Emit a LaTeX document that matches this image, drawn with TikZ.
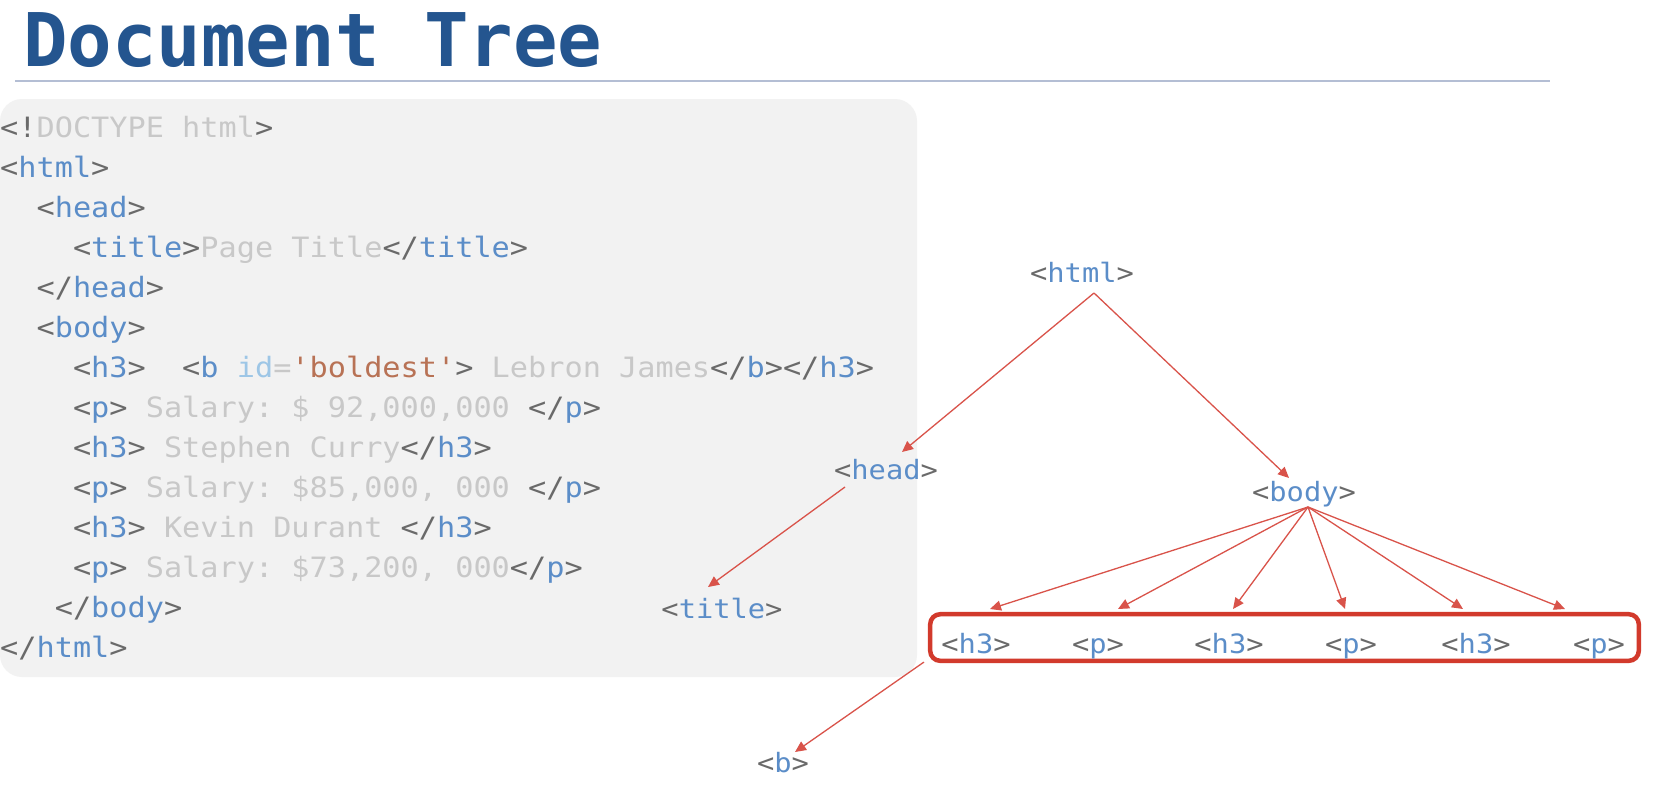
\documentclass[tikz,border=0pt]{standalone}
\usepackage{fontspec}
\usetikzlibrary{arrows.meta}
\newfontfamily\codefont{DejaVu Sans Mono}[FakeStretch=1.08,Ligatures=TeXOff]
\newfontfamily\titlefont{DejaVu Sans Mono}
\definecolor{tagc}{HTML}{5B8DC8}
\definecolor{brk}{HTML}{6A6A6A}
\definecolor{txt}{HTML}{C8C8C8}
\definecolor{attr}{HTML}{9DC6E6}
\definecolor{strc}{HTML}{B87255}
\definecolor{titlec}{HTML}{24558F}
\definecolor{rulec}{HTML}{B4BED4}
\definecolor{panelc}{HTML}{F2F2F2}
\definecolor{arrc}{HTML}{D9534A}
\definecolor{boxc}{HTML}{D23A2C}
\newcommand\otag[1]{\textcolor{brk}{<}\textcolor{tagc}{#1}\textcolor{brk}{>}}
\newcommand\ctag[1]{\textcolor{brk}{</}\textcolor{tagc}{#1}\textcolor{brk}{>}}
\newcommand\ttxt[1]{\textcolor{txt}{#1}}
\tikzset{
  codeline/.style={anchor=base west, inner sep=0pt, font=\codefont\fontsize{28}{34}\selectfont},
  tnode/.style={anchor=base, inner sep=0pt, font=\codefont\fontsize{26.6}{32}\selectfont},
  arr/.style={draw=arrc, line width=1.3pt, -{Triangle[length=11pt,width=10pt]}},
}
\begin{document}
\begin{tikzpicture}[x=1pt,y=-1pt]
\useasboundingbox (0,0) rectangle (1662,788);
\fill[white] (0,0) rectangle (1662,788);
% title
\node[anchor=base west, inner sep=0pt, text=titlec, font=\titlefont\bfseries\fontsize{74}{80}\selectfont] (ttl) at (23,66) {Document Tree};
\draw[rulec, line width=2pt] (15,81) -- (1550,81);
% code panel
\fill[panelc, rounded corners=22pt] (0,99) rectangle (917,677);
\def\p{18.2}
\node[codeline] (l0) at (0,137) {\textcolor{brk}{<!}\ttxt{DOCTYPE\ html}\textcolor{brk}{>}};
\node[codeline] (l1) at (0,177) {\otag{html}};
\node[codeline] (l2) at (2*\p,217) {\otag{head}};
\node[codeline] (l3) at (4*\p,257) {\otag{title}\ttxt{Page\ Title}\ctag{title}};
\node[codeline] (l4) at (2*\p,297) {\ctag{head}};
\node[codeline] (l5) at (2*\p,337) {\otag{body}};
\node[codeline] (l6) at (4*\p,377) {\otag{h3}\ \ \textcolor{brk}{<}\textcolor{tagc}{b}\ \textcolor{attr}{id}\ttxt{=}\textcolor{strc}{'boldest'}\textcolor{brk}{>}\ttxt{\ Lebron\ James}\ctag{b}\ctag{h3}};
\node[codeline] (l7) at (4*\p,417) {\otag{p}\ttxt{\ Salary:\ \$\ 92,000,000\ }\ctag{p}};
\node[codeline] (l8) at (4*\p,457) {\otag{h3}\ttxt{\ Stephen\ Curry}\ctag{h3}};
\node[codeline] (l9) at (4*\p,497) {\otag{p}\ttxt{\ Salary:\ \$85,000,\ 000\ }\ctag{p}};
\node[codeline] (l10) at (4*\p,537) {\otag{h3}\ttxt{\ Kevin\ Durant\ }\ctag{h3}};
\node[codeline] (l11) at (4*\p,577) {\otag{p}\ttxt{\ Salary:\ \$73,200,\ 000}\ctag{p}};
\node[codeline] (l12) at (3*\p,617) {\ctag{body}};
\node[codeline] (l13) at (0,657) {\ctag{html}};
% tree
\node[tnode] (html) at (1082,282) {\otag{html}};
\node[tnode] (head) at (886,479) {\otag{head}};
\node[tnode] (body) at (1304,501) {\otag{body}};
\node[tnode] (title) at (722,618) {\otag{title}};
\node[draw=boxc, line width=4.5pt, rounded corners=10pt, minimum width=708.6pt, minimum height=46.6pt, inner sep=0pt] (grp) at (1284.5,637.5) {};
\node[tnode] (c1) at (976,653) {\otag{h3}};
\node[tnode] (c2) at (1098,653) {\otag{p}};
\node[tnode] (c3) at (1229,653) {\otag{h3}};
\node[tnode] (c4) at (1351,653) {\otag{p}};
\node[tnode] (c5) at (1476,653) {\otag{h3}};
\node[tnode] (c6) at (1599,653) {\otag{p}};
\node[tnode] (b) at (783,772) {\otag{b}};
% connectors
\draw[arr] ([shift={(12,11)}]html.base) -- ([shift={(16,-27)}]head.base);
\draw[arr] ([shift={(12,11)}]html.base) -- ([shift={(-15,-23)}]body.base);
\draw[arr] ([shift={(-41,8)}]head.base) -- ([shift={(-14,-31)}]title.base);
\draw[arr] ([shift={(4,6)}]body.base) -- ([shift={(14,-44)}]c1.base);
\draw[arr] ([shift={(4,6)}]body.base) -- ([shift={(20,-44)}]c2.base);
\draw[arr] ([shift={(4,6)}]body.base) -- ([shift={(4,-44)}]c3.base);
\draw[arr] ([shift={(4,6)}]body.base) -- ([shift={(-6,-44)}]c4.base);
\draw[arr] ([shift={(4,6)}]body.base) -- ([shift={(-13,-44)}]c5.base);
\draw[arr] ([shift={(4,6)}]body.base) -- ([shift={(-34,-44)}]c6.base);
\draw[arr] ([shift={(-4,-1)}]grp.south west) -- ([shift={(12,-20)}]b.base);
\end{tikzpicture}
\end{document}
